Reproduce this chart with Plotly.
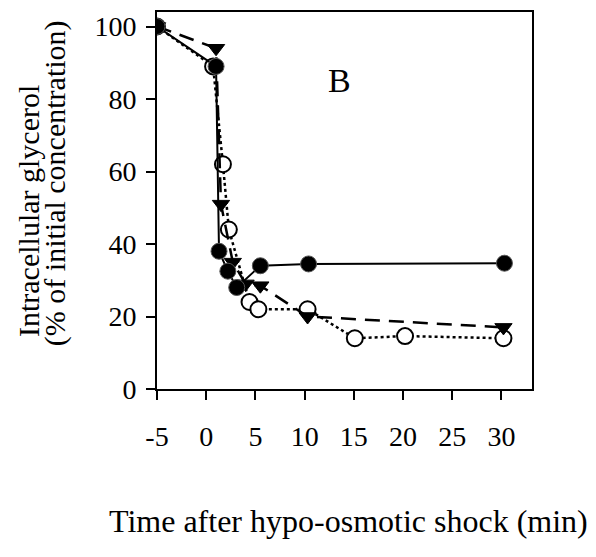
import plotly.graph_objects as go

# Filled circles (solid line)
t_fill = [-5, 1.0, 1.3, 2.2, 3.1, 5.5, 10.4, 30.3]
g_fill = [100, 89, 38, 32.5, 28, 34, 34.5, 34.7]

# Filled down-triangles (dashed line)
t_tri = [-5, 1.0, 1.5, 2.7, 4.0, 5.5, 10.3, 30.2]
g_tri = [100, 94, 51, 35, 29, 28.5, 20, 17]

# Open circles (dotted line)
t_open = [-5, 0.7, 1.7, 2.3, 4.4, 5.3, 10.3, 15.1, 20.2, 30.2]
g_open = [100, 89, 62, 44, 24, 22, 22, 14, 14.6, 14]

x_ticks = [-5, 0, 5, 10, 15, 20, 25, 30]
y_ticks = [0, 20, 40, 60, 80, 100]

FONT = "Liberation Serif, Times New Roman, serif"

fig = go.Figure()
fig.add_trace(go.Scatter(
    x=t_open, y=g_open, mode="lines+markers",
    line=dict(color="black", width=2.5, dash="dot"),
    marker=dict(symbol="circle", size=16, color="white",
                line=dict(color="black", width=2)),
    showlegend=False))
fig.add_trace(go.Scatter(
    x=t_tri, y=g_tri, mode="lines+markers",
    line=dict(color="black", width=2.5, dash="15px,9px"),
    marker=dict(symbol="triangle-down", size=15, color="black",
                line=dict(color="black", width=1)),
    showlegend=False))
fig.add_trace(go.Scatter(
    x=t_fill, y=g_fill, mode="lines+markers",
    line=dict(color="black", width=2),
    marker=dict(symbol="circle", size=16, color="black",
                line=dict(color="#555555", width=1)),
    showlegend=False))

fig.add_annotation(x=13.5, y=85, text="B", showarrow=False,
                   font=dict(family=FONT, size=34, color="black"))

fig.add_annotation(xref="paper", yref="paper", x=0.51, y=-0.35,
                   xanchor="center", yanchor="middle",
                   text="Time after hypo-osmotic shock (min)", showarrow=False,
                   font=dict(family=FONT, size=32, color="black"))
fig.add_annotation(xref="paper", yref="paper", x=-0.344, y=0.472,
                   xanchor="center", yanchor="middle",
                   text="Intracellular glycerol", textangle=-90, showarrow=False,
                   font=dict(family=FONT, size=30, color="black"))
fig.add_annotation(xref="paper", yref="paper", x=-0.272, y=0.546,
                   xanchor="center", yanchor="middle",
                   text="(% of initial concentration)", textangle=-90, showarrow=False,
                   font=dict(family=FONT, size=30, color="black"))

fig.update_xaxes(range=[-5, 33.1], tickvals=x_ticks, ticktext=[str(v) for v in x_ticks],
                 showline=True, linecolor="black", linewidth=2, mirror=True,
                 ticks="outside", ticklen=9, tickwidth=2, tickcolor="black",
                 showgrid=False, zeroline=False, ticklabelstandoff=12,
                 tickfont=dict(family=FONT, size=28, color="black"))
fig.update_yaxes(range=[0, 104], tickvals=y_ticks, ticktext=[str(v) for v in y_ticks],
                 showline=True, linecolor="black", linewidth=2, mirror=True,
                 ticks="outside", ticklen=9, tickwidth=2, tickcolor="black",
                 showgrid=False, zeroline=False, ticklabelstandoff=4,
                 tickfont=dict(family=FONT, size=28, color="black"))

fig.update_layout(width=596, height=557,
                  margin=dict(l=157, r=64, t=10, b=168),
                  paper_bgcolor="white", plot_bgcolor="white")

fig.write_html("out.html")
